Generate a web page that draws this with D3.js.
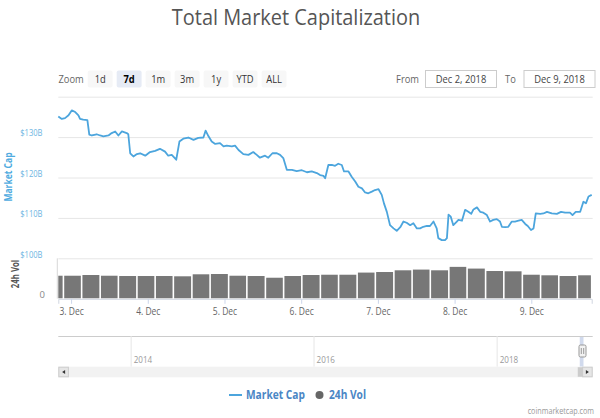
<!DOCTYPE html>
<html><head><meta charset="utf-8">
<script src="https://cdn.jsdelivr.net/npm/d3@7"></script>
<style>
html,body{margin:0;padding:0;background:#fff;}
svg{display:block;font-family:"Open Sans","Lucida Grande",Arial,sans-serif;}
</style></head><body>
<svg id="chart" width="600" height="418"></svg>
<script>
// ---------- DATA ----------
// hours after 2 Dec 2018 00:00 UTC
const capHours = [20.0,21.1,22.1,23.2,24.2,25.3,26.3,26.8,27.8,29.1,
29.7,30.5,32.0,33.1,34.1,35.7,36.7,37.8,38.8,39.9,
41.4,41.9,42.5,43.5,44.6,45.6,47.2,48.7,50.3,51.8,
53.4,54.4,55.5,56.9,57.9,59.1,60.7,62.3,63.8,65.4,
66.1,67.0,68.0,69.1,70.6,71.7,72.7,74.3,75.3,76.4,
77.9,79.5,81.0,82.1,83.1,84.7,85.7,87.0,88.4,89.4,
90.4,91.5,93.1,94.6,96.2,97.8,99.3,100.9,101.9,103.0,
103.5,104.5,105.6,106.6,107.6,108.7,109.4,110.8,111.8,112.9,
113.9,115.0,116.0,117.0,118.1,119.1,120.2,121.2,121.9,122.8,
123.8,124.9,125.9,127.0,128.0,129.0,130.1,131.1,132.2,133.2,
134.2,135.3,136.3,137.4,138.4,138.9,140.0,141.0,141.6,142.1,
142.8,143.6,144.7,145.2,146.3,147.3,148.3,149.2,149.9,151.0,
152.0,153.0,154.1,155.1,156.1,157.2,158.2,158.8,159.8,160.8,
161.9,162.9,164.0,165.0,166.1,166.9,167.9,168.7,169.4,170.8,
171.8,172.9,174.4,176.0,177.3,178.6,180.1,180.9,181.9,183.3,
184.3,185.1,185.9,186.9];
// total market cap, $B
const capValues = [135.1,134.5,134.7,135.4,136.6,136.2,135.4,134.5,134.3,134.2,
130.6,130.4,130.7,130.4,130.2,130.4,131.0,131.4,130.4,131.4,
131.0,130.7,126.0,125.2,125.8,126.0,125.4,126.3,126.6,127.1,
126.4,125.4,125.6,124.4,128.9,129.6,129.9,129.3,129.8,129.9,
131.6,130.2,128.9,128.3,128.5,127.7,127.9,127.7,127.9,126.8,
125.8,125.6,126.3,125.6,124.9,125.4,124.9,126.0,126.0,125.6,
124.8,121.9,121.9,121.6,121.8,121.3,121.5,121.1,120.6,120.4,
119.8,123.1,123.1,122.9,123.4,123.1,121.5,121.5,120.2,119.0,
117.7,117.3,116.3,116.1,116.5,116.9,117.1,115.7,113.6,111.5,
108.2,107.4,106.8,107.7,109.1,108.8,108.2,108.7,107.4,107.4,
107.8,108.0,108.0,109.1,107.4,105.0,104.5,104.5,105.0,110.8,
110.3,108.2,109.1,109.5,109.3,112.0,111.5,111.0,112.1,112.6,
111.5,111.3,110.7,109.1,109.5,109.7,109.1,107.8,107.7,107.8,
109.1,109.1,109.3,109.5,108.5,108.0,107.0,107.4,111.1,111.0,
111.1,111.5,111.1,111.0,111.5,111.3,111.3,110.7,111.5,111.5,
114.0,113.6,115.3,115.7];
// 24h volume bars: start hour of each group, value in $B
const volStartHours = [20.0,21.6,27.3,33.1,38.8,44.6,50.3,56.0,61.8,67.5,
73.3,79.0,84.8,90.5,96.2,102.0,107.7,113.5,119.2,125.0,
130.7,136.4,142.2,147.9,153.7,159.4,165.2,170.9,176.6,182.4];
const volValues = [15.8,15.8,16.3,15.8,15.6,15.6,15.6,15.4,16.8,17.0,
15.8,15.6,14.4,15.6,16.3,16.5,16.5,18.0,18.4,19.6,
20.1,19.6,22.0,20.8,19.1,18.9,16.5,16.1,15.6,16.1];
const yTickValues = [100,110,120,130];
const yGridValues = [100,110,120,130,140];
const volTickValues = [0];
const zoomButtons = ["1d","7d","1m","3m","1y","YTD","ALL"];
const selectedButton = "7d";
const fromLabel = "Dec 2, 2018";
const toLabel = "Dec 9, 2018";
const navYears = [2014,2016,2018];
const navStart = Date.UTC(2013,3,28);
const titleText = "Total Market Capitalization";
const seriesNames = ["Market Cap","24h Vol"];

// ---------- SETUP ----------
const T0 = Date.UTC(2018,11,2);
const hd = h => new Date(T0 + h*3600e3);
const SX = 0.85;
const svg = d3.select("#chart");
const L = 58.3, R = 592.7;
const lineColor = "#4ca5dd", volColor = "#777777";

function label(parent, x, y, s, o = {}) {
  const t = parent.append("text")
    .attr("transform", `translate(${x},${y})${o.rot?` rotate(${o.rot})`:""} scale(${o.sx ?? SX},1)`)
    .attr("text-anchor", o.anchor || "start")
    .style("font-size", (o.size || 11) + "px")
    .attr("fill", o.fill || "#333")
    .text(s);
  if (o.weight) t.style("font-weight", o.weight);
  return t;
}

const x = d3.scaleUtc().domain([hd(capHours[0]), hd(capHours[capHours.length-1])]).range([L, R-1]);
const y = d3.scaleLinear().domain([100,140]).range([258.3, 96.7]);
const yV = d3.scaleLinear().domain([0,28]).range([298.3, 258.3]);

// title
label(svg, 296, 25, titleText, {anchor:"middle", size:21, fill:"#555", sx:0.95});

// range selector
label(svg, 58.5, 83, "Zoom", {size:11, fill:"#666"});
const bx = d3.scaleBand().domain(zoomButtons).range([87.7, 87.7+28.4*zoomButtons.length]).paddingInner(0.14).paddingOuter(0);
zoomButtons.forEach(b => {
  const sel = b === selectedButton;
  svg.append("rect").attr("x", bx(b)).attr("y", 70.5).attr("width", bx.bandwidth()).attr("height", 17)
    .attr("rx", 2).attr("fill", sel ? "#e6ebf5" : "#f7f7f7");
  label(svg, bx(b)+bx.bandwidth()/2, 83, b, {anchor:"middle", size:11, fill: sel ? "#000" : "#333", weight: sel ? "bold" : null});
});
label(svg, 419, 83, "From", {anchor:"end", size:11, fill:"#666"});
svg.append("rect").attr("x",425.5).attr("y",70.5).attr("width",71).attr("height",17).attr("fill","#fff").attr("stroke","#ccc");
label(svg, 461, 83, fromLabel, {anchor:"middle", size:11, fill:"#444"});
label(svg, 505, 83, "To", {size:11, fill:"#666"});
svg.append("rect").attr("x",524).attr("y",70.5).attr("width",71).attr("height",17).attr("fill","#fff").attr("stroke","#ccc");
label(svg, 559.5, 83, toLabel, {anchor:"middle", size:11, fill:"#444"});

// gridlines
const grid = svg.append("g").attr("transform", `translate(${L},0)`)
  .call(d3.axisLeft(y).tickValues(yGridValues).tickSize(-(R-L)).tickFormat(""));
grid.select(".domain").remove();
grid.selectAll("line").attr("stroke","#e6e6e6");

// y labels
const ya = svg.append("g").attr("transform","translate(42.5,0)")
  .call(d3.axisLeft(y).tickValues(yTickValues).tickSize(0).tickPadding(0).tickFormat(d => `$${d}B`));
ya.select(".domain").remove();
ya.selectAll("text").attr("x",0).attr("y",-1.2).attr("dy",0).attr("fill","#6db5e2")
  .style("font-size","9.5px").style("font-family",'"Open Sans",sans-serif').attr("transform","scale(0.8,1)");

// volume axis
const va = svg.append("g").attr("transform","translate(45,0)")
  .call(d3.axisLeft(yV).tickValues(volTickValues).tickSize(0).tickPadding(0).tickFormat(d3.format("d")));
va.select(".domain").remove();
va.selectAll("text").attr("x",0).attr("y",-0.8).attr("dy",0).attr("fill","#888")
  .style("font-size","9.5px").style("font-family",'"Open Sans",sans-serif');

// axis titles
label(svg, 12, 177, seriesNames[0], {rot:-90, anchor:"middle", size:10, fill:"#4fabe0", weight:"bold"});
label(svg, 18.5, 274, seriesNames[1], {rot:-90, anchor:"middle", size:10, fill:"#555", weight:"bold", sx:0.78});

// volume pane frame
svg.append("line").attr("x1",57.3).attr("x2",57.3).attr("y1",258.3).attr("y2",298.5).attr("stroke","#d8d8d8");

// volume bars
const volEnd = capHours[capHours.length-1];
svg.append("g").selectAll("rect").data(volValues).join("rect")
  .attr("x", (d,i) => x(hd(volStartHours[i])) + (i===0?0:0.8))
  .attr("width", (d,i) => x(hd(i+1<volStartHours.length?volStartHours[i+1]:volEnd)) - x(hd(volStartHours[i])) - (i===0?0.8:1.6))
  .attr("y", d => yV(d)).attr("height", d => yV(0) - yV(d))
  .attr("fill", volColor);

// x axis
const xa = svg.append("g").attr("transform","translate(0,298.8)")
  .call(d3.axisBottom(x).tickValues(d3.utcDay.range(hd(24), hd(volEnd))).tickSize(5).tickPadding(4)
    .tickFormat(d3.utcFormat("%-d. Dec")));
xa.select(".domain").attr("stroke","#d0d6e0");
xa.selectAll("line").attr("stroke","#ccd6eb");
xa.selectAll("text").attr("fill","#666").style("font-size","10px")
  .style("font-family",'"Open Sans",sans-serif').attr("transform",`scale(${SX},1)`);

// market cap line
svg.append("path").datum(capValues)
  .attr("d", d3.line().x((d,i) => x(hd(capHours[i]))).y(d => y(d)))
  .attr("fill","none").attr("stroke",lineColor).attr("stroke-width",1.8).attr("stroke-linejoin","round");

// navigator
const navTop = 336, navBot = 366.7;
const xN = d3.scaleUtc().domain([new Date(navStart), hd(volEnd)]).range([68.5, 582.5]);
svg.append("line").attr("x1",L).attr("x2",R).attr("y1",navTop+0.5).attr("y2",navTop+0.5).attr("stroke","#ccc");
const na = svg.append("g").attr("transform",`translate(0,${navBot})`)
  .call(d3.axisTop(xN).tickValues(navYears.map(v => new Date(Date.UTC(v,0,1)))).tickSize(navBot-navTop).tickFormat(d3.utcFormat("%Y")));
na.select(".domain").remove();
na.selectAll("line").attr("stroke","#e6e6e6");
na.selectAll("text").attr("x",3).attr("y",-4).attr("dy",0).attr("text-anchor","start").attr("fill","#999")
  .style("font-size","9.5px").style("font-family",'"Open Sans",sans-serif').attr("transform",`scale(${SX},1)`);
// selected range mask
const m0 = xN(hd(capHours[0])), m1 = xN(hd(volEnd));
svg.append("rect").attr("x",m0-1).attr("y",navTop+1).attr("width",m1-m0+2).attr("height",navBot-navTop-1)
  .attr("fill","rgba(102,133,194,0.3)");
// scrollbar
const sbTop = 366.7, sbH = 10.6;
svg.append("rect").attr("x",L).attr("y",sbTop).attr("width",R-L).attr("height",sbH).attr("fill","#f2f2f2");
svg.append("rect").attr("x",m0-3).attr("y",sbTop+0.5).attr("width",m1-m0+5).attr("height",sbH-1).attr("fill","#cccccc");
[[L, -1],[R-sbH, 1]].forEach(([bx0,dir]) => {
  svg.append("rect").attr("x",bx0+0.5).attr("y",sbTop+0.5).attr("width",sbH-1).attr("height",sbH-1)
    .attr("fill","#e6e6e6").attr("stroke","#cccccc");
  const cx = bx0 + sbH/2, cy = sbTop + sbH/2;
  svg.append("path").attr("d", `M${cx-1.5*dir},${cy-2}L${cx+1.5*dir},${cy}L${cx-1.5*dir},${cy+2}Z`).attr("fill","#333");
});
// handle
svg.append("rect").attr("x",m1-3.5).attr("y",345).attr("width",7).attr("height",12).attr("rx",1.5)
  .attr("fill","#f2f2f2").attr("stroke","#999");
[-1,1].forEach(o => svg.append("line").attr("x1",m1+o*1.2).attr("x2",m1+o*1.2).attr("y1",348).attr("y2",354).attr("stroke","#999"));

// legend
svg.append("line").attr("x1",229).attr("x2",242).attr("y1",395).attr("y2",395).attr("stroke",lineColor).attr("stroke-width",2);
label(svg, 246, 399, seriesNames[0], {size:12, fill:"#4a86c5", weight:"bold"});
svg.append("circle").attr("cx",319.5).attr("cy",395).attr("r",4).attr("fill","#666");
label(svg, 329, 399, seriesNames[1], {size:12, fill:"#4a86c5", weight:"bold"});

// credits
label(svg, 594, 414, "coinmarketcap.com", {anchor:"end", size:8.5, fill:"#999"});
</script>
</body></html>
